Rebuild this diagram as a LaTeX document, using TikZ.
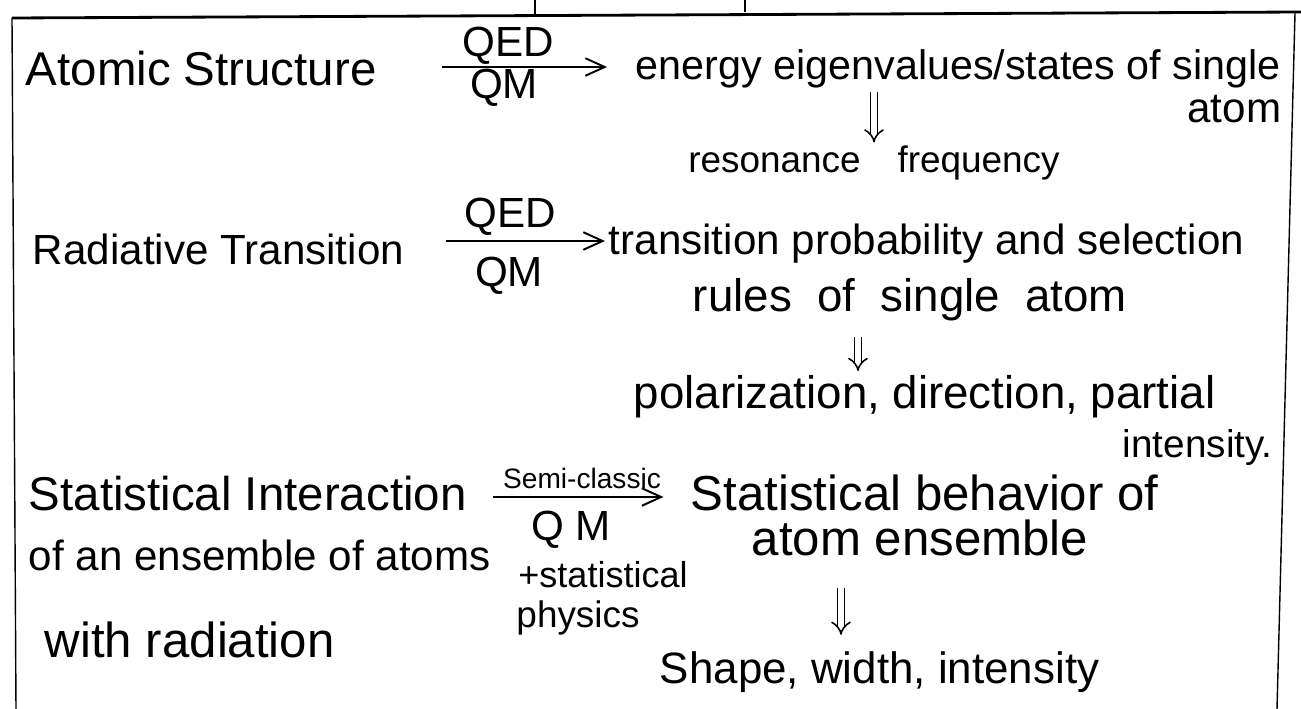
\documentclass[tikz,border=0pt]{standalone}
\usepackage{fontspec}
\setmainfont{Liberation Sans}
\usetikzlibrary{positioning}
\usetikzlibrary{arrows.meta}
\def\inkcol{black}
\newcommand{\handsz}[1]{\fontsize{#1}{#1}\selectfont}
\tikzset{
	txt/.style={anchor=base west,inner sep=2pt,text=\inkcol,font=\handsz{24}},
	lbl/.style={anchor=base,inner sep=2pt,text=\inkcol,font=\handsz{24}},
	harrow/.style={draw=\inkcol,line width=1.1pt,-{Straight Barb[length=11pt,width=10pt]}},
	dbl/.style={draw=\inkcol,line width=0.9pt,double,double distance=3pt,-{Implies}}}

\begin{document}
\begin{tikzpicture}[x=0.02cm,y=-0.02cm]
\useasboundingbox (0,0) rectangle (1301,709);
% sheet border
\draw[\inkcol,line width=1.6pt] (12,18) -- (1301,12);
\draw[\inkcol,thick] (12,18) -- (16,709);
\draw[\inkcol,thick] (1295,13) -- (1277,709);
\draw[\inkcol,thick] (535,0) -- (535,14) (745,0) -- (745,12);
% atomic structure
\node [txt,font=\handsz{27}] (atomic) at (22,86) {Atomic Structure};
\node [txt,font=\handsz{23.5}] (energy) at (632,80) {energy eigenvalues/states of single};
\node [txt,anchor=base east] (atomA) at (1285,123) {atom};
\coordinate (a1) at (442,67);
\draw[harrow,shorten >=0.5cm] (a1) -- (a1 -| energy.west);
\node [lbl] (qed1) at (508,57) {QED};
\node [lbl] (qm1) at (504,99) {QM};
\node [lbl,font=\handsz{21}] (res) at (874,173) {resonance\quad frequency};
\draw[dbl] (energy.south -| res.north) -- (res.north);
% radiative transition
\node [txt] (rad) at (29,265) {Radiative Transition};
\node [txt] (trans) at (605,255) {transition probability and selection};
\node [txt,font=\handsz{26}] (rules) at (689,312) {rules~~of~~single~~atom};
\coordinate (a2) at (446,241);
\draw[harrow] (a2) -- (a2 -| trans.west);
\node [lbl] (qed2) at (510,228) {QED};
\node [lbl] (qm2) at (509,287) {QM};
\node [txt,font=\handsz{26}] (pol) at (630,408) {polarization, direction, partial};
\node [txt,font=\handsz{22}] (inten) at (1119,457) {intensity.};
\coordinate (d2) at (858,337);
\draw[dbl] (d2) -- (d2 |- pol.north);
% statistical interaction
\node [txt,font=\handsz{27}] (stat1) at (25,510) {Statistical Interaction};
\node [txt] (stat2) at (25,570) {of an ensemble of atoms};
\node [txt,font=\handsz{28}] (stat3) at (41,657) {with radiation};
\node [txt,font=\handsz{28}] (behav) at (687,510) {Statistical behavior of};
\node [txt,font=\handsz{28}] (ens) at (748,555) {atom ensemble};
\coordinate (a3) at (493,497);
\draw[harrow,shorten >=0.47cm] (a3) -- (a3 -| behav.west);
\node [lbl,font=\handsz{16}] (semi) at (582,488) {Semi-classic};
\node [lbl] (qm3) at (571,540) {Q M};
\node [lbl,font=\handsz{20.5}] (plusst) at (603,587) {+statistical};
\node [lbl,font=\handsz{21}] (phys) at (578,627) {physics};
\node [txt,font=\handsz{25}] (shape) at (656,683) {Shape, width, intensity};
\coordinate (d3) at (841,588);
\draw[dbl,shorten >=0.25cm] (d3) -- (d3 |- shape.north);
\end{tikzpicture}
\end{document}
